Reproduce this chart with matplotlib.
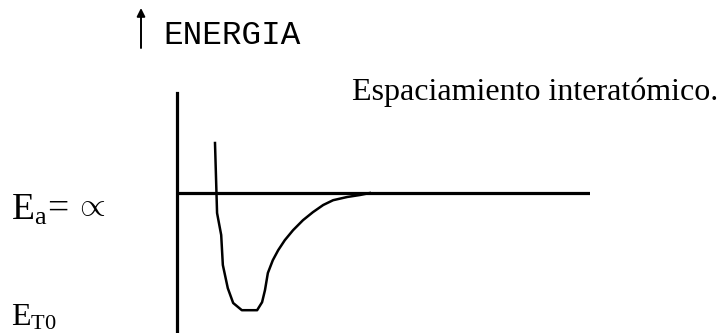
import numpy as np
import matplotlib.pyplot as plt

plt.rcParams['mathtext.fontset'] = 'custom'
plt.rcParams['mathtext.rm'] = 'Liberation Serif'

# potential energy curve (arbitrary units)
spacing = [0.92, 0.97, 1.07, 1.11, 1.23, 1.36, 1.57, 1.94, 2.06, 2.13, 2.20,
           2.32, 2.45, 2.61, 2.81, 3.05, 3.29, 3.54, 3.78, 4.12, 4.43, 4.67]
energy = [1.25, -0.50, -1.05, -1.80, -2.38, -2.75, -2.93, -2.93, -2.73, -2.43,
          -2.00, -1.68, -1.43, -1.18, -0.93, -0.68, -0.48, -0.30, -0.18, -0.10,
          -0.05, 0.00]

y_label = 'ENERGIA'
x_label = 'Espaciamiento interatómico.'

W, H = 722, 333
fig = plt.figure(figsize=(W / 100, H / 100), dpi=100)

def fx(px):
    return px / W

def fy(py):
    return 1 - py / H

# diagram axes
ax = fig.add_axes([fx(177), fy(331), (590 - 177) / W, (331 - 93) / H])
ax.set_xlim(0, 10)
ax.set_ylim(-3.45, 2.5)
for s in ['top', 'right', 'bottom']:
    ax.spines[s].set_visible(False)
ax.spines['left'].set_linewidth(2.3)
ax.set_xticks([])
ax.set_yticks([])
ax.patch.set_alpha(0)
ax.axhline(0, color='black', lw=2.3)
ax.plot(spacing, energy, color='black', lw=1.8, clip_on=False)

# arrow + energy label
ax.annotate('', xy=(fx(141), fy(8)), xytext=(fx(141), fy(48)),
            xycoords='figure fraction', textcoords='figure fraction',
            arrowprops=dict(arrowstyle='-|>', color='black', lw=1.4,
                            mutation_scale=12, shrinkA=0, shrinkB=0))
fig.text(fx(163), fy(44), y_label, family='Liberation Mono', fontsize=23.5,
         va='baseline', ha='left')

serif = ['Liberation Serif', 'DejaVu Serif']
fig.text(fx(352), fy(100), x_label, family=serif, fontsize=23,
         va='baseline', ha='left')

# E_a = ∝
fig.text(fx(11), fy(220), r'$\mathrm{E_a\!=}$', fontsize=27, va='baseline')
fig.text(fx(73), fy(215), r'$\propto$', fontsize=24, va='baseline')

# E_T0
fig.text(fx(11), fy(326), r'$\mathrm{E_{T0}}$', fontsize=23, va='baseline')

fig.savefig('out.png', dpi=100)
